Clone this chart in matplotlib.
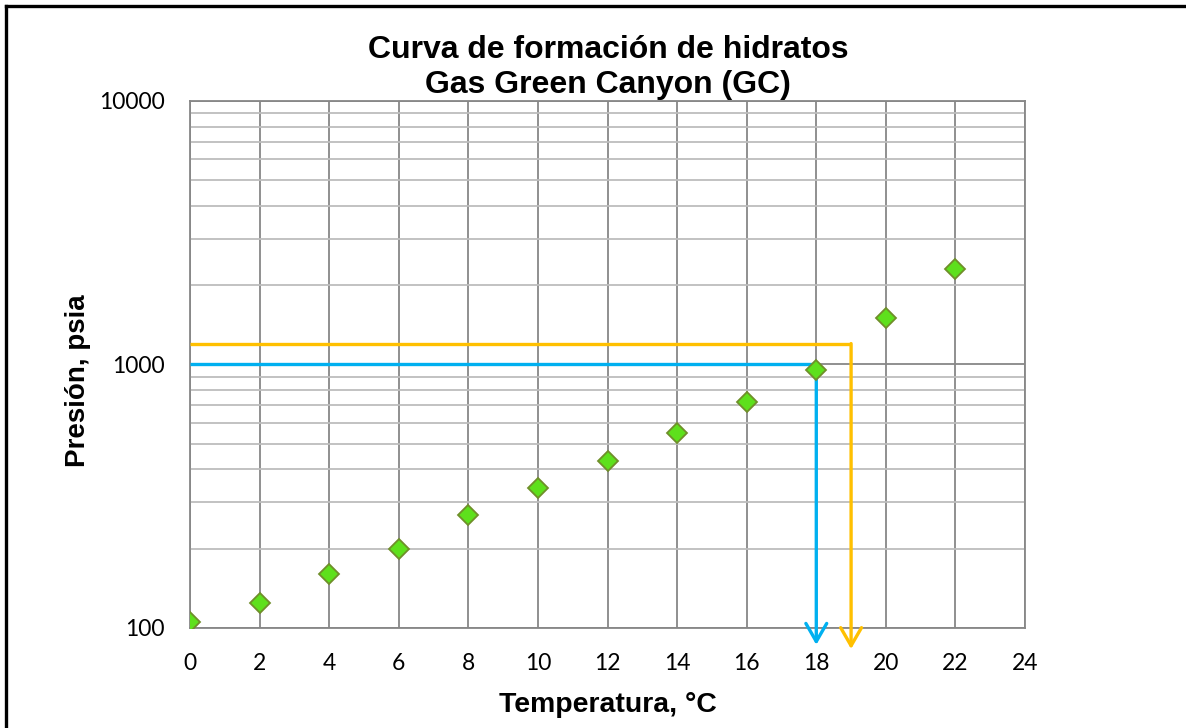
import matplotlib
matplotlib.use("Agg")
import matplotlib.pyplot as plt
from matplotlib.lines import Line2D
from matplotlib.ticker import FixedLocator, LogLocator, NullFormatter

# Hydrate formation data: temperature (°C) vs. pressure (psia)
temperatura = [0, 2, 4, 6, 8, 10, 12, 14, 16, 18, 20, 22]
presion = [105, 124, 160, 200, 268, 340, 430, 550, 720, 953, 1500, 2300]

# Reference operating points
p_azul, t_azul = 1000, 18
p_naranja, t_naranja = 1200, 19

x_ticks = list(range(0, 26, 2))
y_ticks = [100, 1000, 10000]

W, H = 1186, 728
fig = plt.figure(figsize=(W / 100, H / 100), dpi=100)
ax = fig.add_axes([0.1602, 0.1374, 0.7041, 0.7239])

ax.set_yscale("log")
ax.set_xlim(0, 24)
ax.set_ylim(100, 10000)

ax.xaxis.set_major_locator(FixedLocator(x_ticks))
ax.yaxis.set_major_locator(FixedLocator(y_ticks))
ax.yaxis.set_minor_locator(LogLocator(base=10, subs=range(2, 10)))
ax.yaxis.set_minor_formatter(NullFormatter())
ax.set_yticklabels([str(v) for v in y_ticks])
ax.set_xticklabels([str(v) for v in x_ticks])

ax.grid(True, which="major", axis="both", color="#878787", lw=1.3)
ax.grid(True, which="minor", axis="y", color="#bdbdbd", lw=1.3)
ax.set_axisbelow(True)
for s in ax.spines.values():
    s.set_color("#878787")
    s.set_linewidth(1.3)

ax.tick_params(which="both", length=0)
ax.tick_params(axis="y", pad=18, labelsize=16.5)
ax.tick_params(axis="x", pad=18, labelsize=16.5)
for lab in ax.get_xticklabels() + ax.get_yticklabels():
    lab.set_fontfamily("Lato")

# Guide lines with arrows down to the temperature axis
for p, t, col, tip in [(p_azul, t_azul, "#00b0f0", -0.032),
                       (p_naranja, t_naranja, "#ffc000", -0.040)]:
    ax.plot([0, t], [p, p], color=col, lw=2.4, solid_capstyle="butt", zorder=3)
    ax.annotate("", xy=(t, tip), xycoords=("data", "axes fraction"),
                xytext=(t, p), textcoords="data",
                arrowprops=dict(arrowstyle="->,head_length=1.3,head_width=0.75",
                                color=col, lw=2.4, shrinkA=0, shrinkB=0),
                annotation_clip=False, zorder=3)

ax.plot(temperatura, presion, linestyle="none", marker="D", markersize=10.5,
        markerfacecolor="#5ee01c", markeredgecolor="#6f8f2a", markeredgewidth=1.3,
        zorder=5)

# Titles and axis labels
bold = dict(fontweight="bold", family="Liberation Sans")
fig.text(608 / W, 1 - 58 / H, "Curva de formación de hidratos",
         ha="center", va="baseline", fontsize=23, **bold)
fig.text(608 / W, 1 - 93 / H, "Gas Green Canyon (GC)",
         ha="center", va="baseline", fontsize=23, **bold)
fig.text(608 / W, 1 - 712 / H, "Temperatura, °C",
         ha="center", va="baseline", fontsize=20.4, **bold)
fig.text(78 / W, 1 - 381 / H, "Presión, psia", rotation=90,
         ha="center", va="center", fontsize=20, **bold)

# Outer frame (left and top edges)
fig.add_artist(Line2D([6 / W, 6 / W], [0, 1 - 6 / H],
                      transform=fig.transFigure, color="black", lw=2.4))
fig.add_artist(Line2D([6 / W, 1], [1 - 6 / H, 1 - 6 / H],
                      transform=fig.transFigure, color="black", lw=2.4))

fig.savefig("out.png", dpi=100)
